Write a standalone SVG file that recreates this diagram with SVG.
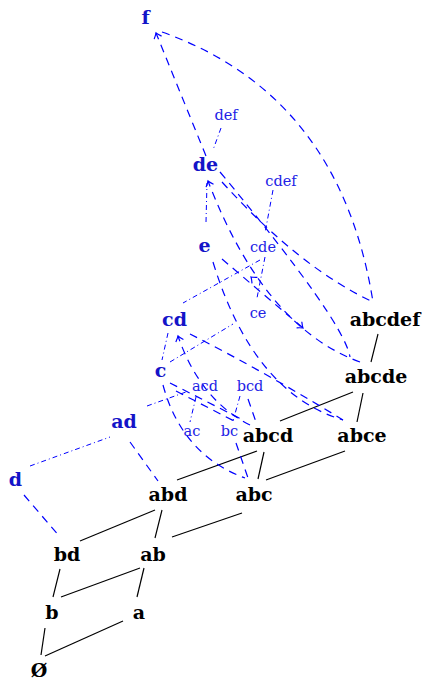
<svg xmlns="http://www.w3.org/2000/svg" width="422" height="681" viewBox="0 0 422 681">
<style>
.k{font-family:"DejaVu Serif","Liberation Serif",serif;font-weight:bold;font-size:19px;fill:#000;text-anchor:middle}
.bn{font-family:"DejaVu Serif","Liberation Serif",serif;font-weight:bold;font-size:19px;fill:#1414c8;text-anchor:middle}
.sl{font-family:"DejaVu Serif","Liberation Serif",serif;font-size:14.5px;fill:#2222e6;text-anchor:middle}
.s{stroke:#000;stroke-width:1.2;fill:none}
.d{stroke:#0000ff;stroke-width:1.2;fill:none;stroke-dasharray:8 6}
.dd{stroke:#0000ff;stroke-width:1;fill:none;stroke-dasharray:5 3 1 3}
</style>
<defs>
<marker id="ar" viewBox="-6 -6 8 12" markerWidth="8" markerHeight="12" refX="0" refY="0" orient="auto" markerUnits="userSpaceOnUse">
<path d="M-5,-4 Q-1.5,-0.8 0,0 Q-1.5,0.8 -5,4" stroke="#0000ff" stroke-width="1.2" fill="none"/>
</marker>
</defs>
<g id="connectors">
<g id="solid">
<line class="s" x1="41" y1="655" x2="45" y2="628"/>
<line class="s" x1="45" y1="656" x2="123" y2="621"/>
<line class="s" x1="53" y1="597" x2="60" y2="569"/>
<line class="s" x1="61" y1="597" x2="140" y2="568"/>
<line class="s" x1="137" y1="597" x2="144" y2="568"/>
<line class="s" x1="80" y1="541" x2="155" y2="510"/>
<line class="s" x1="155" y1="538" x2="162" y2="510"/>
<line class="s" x1="172" y1="537" x2="242" y2="513"/>
<line class="s" x1="177" y1="480" x2="257" y2="451"/>
<line class="s" x1="258" y1="479" x2="264" y2="452"/>
<line class="s" x1="266" y1="480" x2="345" y2="451"/>
<line class="s" x1="280" y1="421" x2="353" y2="392"/>
<line class="s" x1="357" y1="422" x2="363" y2="393"/>
<line class="s" x1="371" y1="362" x2="378" y2="334"/>
</g>
<g id="dashed">
<path class="d" d="M206,156 L156,33" marker-end="url(#ar)"/>
<path class="d" d="M162,32 Q340,95 373,302"/>
<path class="d" d="M222,182 Q300,268 373,302"/>
<path class="d" d="M220,172 Q344,321 350,357"/>
<path class="d" d="M360,362 Q264,327 208,181" marker-end="url(#ar)"/>
<path class="d" d="M222,259 L303,328" marker-end="url(#ar)"/>
<path d="M262,287 L251,277" stroke="none" fill="none" marker-end="url(#ar)"/>
<path class="d" d="M213,262 Q253,393 343,420"/>
<path class="d" d="M190,334 Q265,372 343,420"/>
<path class="d" d="M170,383 L245,421"/>
<path class="d" d="M176,391 L238,423"/>
<path class="d" d="M163,385 Q182,455 245,478"/>
<path class="d" d="M250,425 Q200,400 178,336" marker-end="url(#ar)"/>
<path class="d" d="M248,399 L256,422"/>
<path class="d" d="M236,443 L248,478"/>
<path class="d" d="M130,442 L158,481"/>
<path class="d" d="M24,495 L60,537"/>
</g>
<g id="dashdot">
<path class="dd" d="M30,466 L110,437"/>
<path class="dd" d="M147,406 L186,392"/>
<path class="dd" d="M196,397 L190,422"/>
<path class="dd" d="M240,396 L233,421"/>
<path class="dd" d="M170,362 L233,324"/>
<path class="dd" d="M168,333 L162,360"/>
<path class="dd" d="M260,260 L183,303"/>
<path class="dd" d="M265,257 L257,298"/>
<path class="dd" d="M273,190 L265,233"/>
<path class="dd" d="M206,222 L207,183"/>
<path class="dd" d="M221,128 L213,150"/>
</g>
</g>
<g id="n-empty"><text class="k" x="39" y="677">Ø</text></g>
<g id="n-b"><text class="k" x="52" y="619">b</text></g>
<g id="n-a"><text class="k" x="139" y="619">a</text></g>
<g id="n-bd"><text class="k" x="67" y="561">bd</text></g>
<g id="n-ab"><text class="k" x="153" y="561">ab</text></g>
<g id="n-abd"><text class="k" x="168" y="501">abd</text></g>
<g id="n-abc"><text class="k" x="254" y="501">abc</text></g>
<g id="n-abcd"><text class="k" x="268" y="442">abcd</text></g>
<g id="n-abce"><text class="k" x="362" y="442">abce</text></g>
<g id="n-abcde"><text class="k" x="376" y="383">abcde</text></g>
<g id="n-abcdef"><text class="k" x="385" y="326">abcdef</text></g>
<g id="n-d"><text class="bn" x="15.5" y="486">d</text></g>
<g id="n-ad"><text class="bn" x="124" y="428">ad</text></g>
<g id="n-c"><text class="bn" x="160.5" y="377">c</text></g>
<g id="n-cd"><text class="bn" x="174.5" y="326">cd</text></g>
<g id="n-e"><text class="bn" x="204.5" y="252">e</text></g>
<g id="n-de"><text class="bn" x="205.5" y="171">de</text></g>
<g id="n-f"><text class="bn" x="145.5" y="24">f</text></g>
<g id="l-def"><text class="sl" x="226" y="120">def</text></g>
<g id="l-cdef"><text class="sl" x="281" y="186">cdef</text></g>
<g id="l-cde"><text class="sl" x="263" y="252">cde</text></g>
<g id="l-ce"><text class="sl" x="258" y="318">ce</text></g>
<g id="l-acd"><text class="sl" x="205" y="391">acd</text></g>
<g id="l-bcd"><text class="sl" x="250" y="391">bcd</text></g>
<g id="l-ac"><text class="sl" x="192" y="436">ac</text></g>
<g id="l-bc"><text class="sl" x="229.5" y="436">bc</text></g>
</svg>
